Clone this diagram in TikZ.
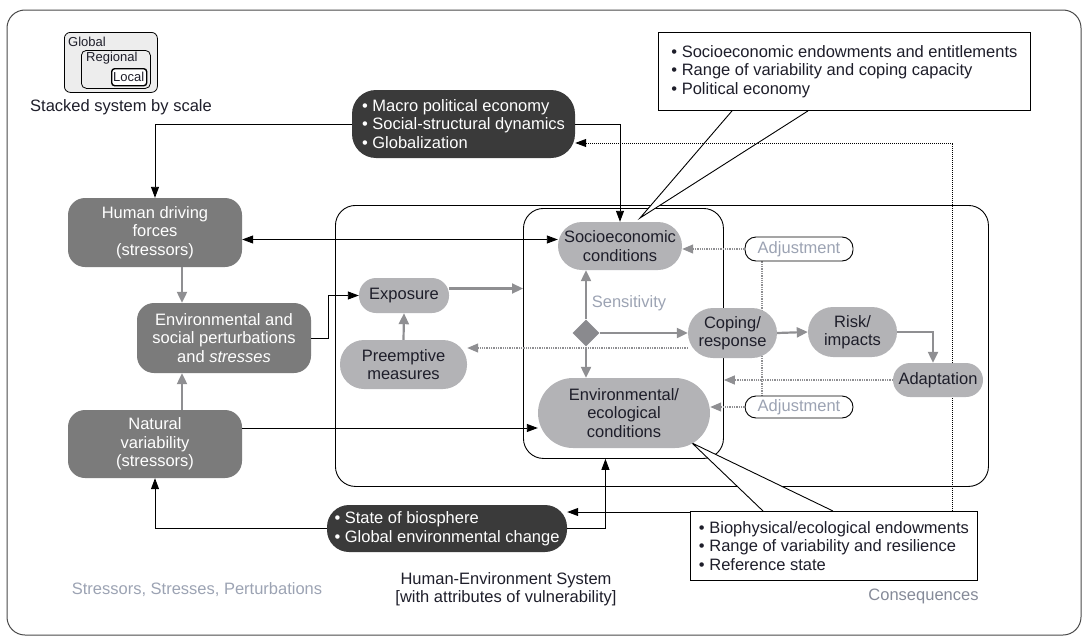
\documentclass[tikz,border=0pt]{standalone}
\usepackage{fontspec}
\setmainfont{Liberation Sans}
\usepackage{tikz}
\usetikzlibrary{shapes,arrows.meta,backgrounds,positioning,calc}

\definecolor{nodedark}{HTML}{7B7B7B}
\definecolor{nodeblack}{HTML}{3A3A3A}
\definecolor{nodelight}{HTML}{B3B3B6}
\definecolor{arrowgray}{HTML}{8F8F92}
\definecolor{diagray}{HTML}{8A8A8E}
\definecolor{textdark}{HTML}{1E1E2A}
\definecolor{textpale}{HTML}{9CA3B3}
\definecolor{framegray}{HTML}{4A4A4A}
\definecolor{legendfill}{HTML}{EDEDED}

\newcommand{\itm}{\textbullet\ }

\begin{document}
\begin{tikzpicture}[x=1pt,y=-1pt,
    >={Triangle[length=11pt,width=8pt]},
    every node/.style={font=\fontsize{16.5}{18.5}\selectfont,text=textdark,inner sep=0pt},
    darkbox/.style={fill=nodedark,text=white,rounded corners=17pt,align=center,minimum width=174pt},
    blackbox/.style={fill=nodeblack,text=white,align=left},
    lightbox/.style={fill=nodelight,align=center},
    adjbox/.style={draw,line width=0.9pt,fill=white,rounded corners=11pt,text=textpale,minimum width=108pt},
    callout/.style={draw,line width=0.9pt,fill=white,align=left,anchor=north west},
    legbox/.style={draw,line width=0.8pt,anchor=north west},
    legtext/.style={font=\fontsize{13}{15}\selectfont,anchor=west},
    conn/.style={line width=0.9pt},
    garrow/.style={-{Triangle[length=11pt,width=10pt]},draw=arrowgray,line width=2.2pt},
    gdots/.style={draw=arrowgray,line width=1.3pt,densely dotted},
    gdotarrow/.style={gdots,-{Triangle[length=11pt,width=9pt]},arrowgray},
    kdots/.style={line width=1pt,densely dotted}
  ]
  \useasboundingbox (0,0) rectangle (1084,637);

  % frame and system boxes
  \begin{scope}[on background layer]
    \draw[framegray,line width=1pt,rounded corners=18pt] (7,10) rectangle (1081,635);
    \node[draw,line width=0.9pt,rounded corners=20pt,minimum width=653pt,minimum height=281pt,anchor=north west] (hes) at (335,205) {};
    \node[draw,line width=0.9pt,rounded corners=20pt,minimum width=200pt,minimum height=250pt,anchor=north west] (vul) at (523,208) {};
  \end{scope}

  % legend
  \node[legbox,fill=legendfill,rounded corners=6pt,minimum width=93pt,minimum height=60pt] (glob) at (64,32) {};
  \node[legbox,fill=legendfill,rounded corners=5pt,minimum width=69pt,minimum height=38pt] (regi) at (81,50) {};
  \node[legbox,fill=white,line width=1.4pt,rounded corners=3pt,minimum width=35pt,minimum height=17pt] (loca) at (111,68) {};
  \node[legtext] (globtxt) at (68,42) {Global};
  \node[legtext] (regitxt) at (86,58) {Regional};
  \node[legtext] (locatxt) at (113,76.5) {Local};
  \node (stack) at (121,107) {Stacked system by scale};

  % stressors
  \node[darkbox,minimum height=69pt] (hdf) at (155,232.5) {Human driving\\forces\\(stressors)};
  \node[darkbox,minimum height=70pt] (esp) at (224,338) {Environmental and\\social perturbations\\and \textit{stresses}};
  \node[darkbox,minimum height=68pt] (nv) at (155,444) {Natural\\variability\\(stressors)};

  \node[blackbox,rounded corners=24pt,minimum width=223pt,minimum height=68pt] (macro) at (463.5,124)
    {\itm Macro political economy\\\itm Social-structural dynamics\\\itm Globalization};
  \node[blackbox,rounded corners=22pt,minimum width=240pt,minimum height=47pt] (bio) at (447,528.5)
    {\itm State of biosphere\\\itm Global environmental change};

  % human-environment system
  \node[lightbox,minimum width=124pt,minimum height=48pt,rounded corners=24pt] (soc) at (620,246) {Socioeconomic\\conditions};
  \node[lightbox,minimum width=90pt,minimum height=35pt,rounded corners=17pt] (expo) at (404,295.5) {Exposure};
  \node[lightbox,minimum width=127pt,minimum height=49pt,rounded corners=24pt] (pre) at (403.5,364.5) {Preemptive\\measures};
  \node[lightbox,minimum width=172pt,minimum height=70pt,rounded corners=35pt] (env) at (624,413) {Environmental/\\ecological\\conditions};
  \node[diamond,fill=diagray,minimum width=27pt,minimum height=27pt] (dia) at (586,333) {};
  \node[text=textpale] (sens) at (629,303) {Sensitivity};
  \node[lightbox,minimum width=89pt,minimum height=50pt,rounded corners=25pt] (cop) at (732.5,333) {Coping/\\response};
  \node[lightbox,minimum width=89pt,minimum height=50pt,rounded corners=25pt] (risk) at (852.5,332) {Risk/\\impacts};
  \node[lightbox,minimum width=90pt,minimum height=34pt,rounded corners=17pt] (adap) at (938,380) {Adaptation};
  \node[adjbox,minimum height=24pt] (adj1) at (799,249) {Adjustment};
  \node[adjbox,minimum height=22pt] (adj2) at (799,407) {Adjustment};

  % attribute callouts
  \node[callout,minimum width=372pt,minimum height=78pt] (tcall) at (658,32)
    {\itm Socioeconomic endowments and entitlements\\\itm Range of variability and coping capacity\\\itm Political economy};
  \node[callout,minimum width=287pt,minimum height=69pt] (bcall) at (690,511)
    {\itm Biophysical/ecological endowments\\\itm Range of variability and resilience\\\itm Reference state};
  \coordinate (stip) at (640,218);
  \coordinate (etip) at (692,443);

  % captions
  \node[text=textpale] (stresslbl) at (197,590) {Stressors, Stresses, Perturbations};
  \node[align=center] (heslbl) at (506,589) {Human-Environment System\\{[}with attributes of vulnerability{]}};
  \node[text=textpale!85!black] (conslbl) at (923.5,596) {Consequences};

  \begin{scope}[on background layer]
    \fill[white] ([xshift=74pt]tcall.south west) -- (stip) -- ([xshift=150pt]tcall.south west) -- cycle;
    \draw[conn] ([xshift=74pt]tcall.south west) -- (stip) -- ([xshift=150pt]tcall.south west);
    \fill[white] ([xshift=73pt]bcall.north west) -- (etip) -- ([xshift=143pt]bcall.north west) -- cycle;
    \draw[conn] ([xshift=73pt]bcall.north west) -- (etip) -- ([xshift=143pt]bcall.north west);
    \draw[kdots,->] ([xshift=-25pt]bcall.north east) |- ([yshift=-19pt]macro.east);
    \draw[gdots] ([xshift=-37pt]adj1.south) -- ([xshift=-37pt]adj2.north);
  \end{scope}

  % black connectors
  \draw[conn,->] (macro.west) -| (hdf.north);
  \draw[conn,->] (macro.east) -| (soc.north);
  \draw[conn,<->] ([yshift=-7pt]hdf.east) -- ([yshift=-7pt]hdf.east -| soc.west);
  \draw[conn,->] ([yshift=16pt]nv.east) -- ([yshift=16pt]nv.east -| env.west);
  \draw[conn,->] (esp.east) -- ++(17,0) |- (expo.west);
  \draw[conn,->] (bio.west) -| (nv.south);
  \draw[conn,->] (bio.east) -| ([xshift=-18pt]vul.south);
  \draw[conn,->] ([yshift=-1pt]bcall.north west) -- ([yshift=-1pt]bcall.north west -| bio.east);

  % gray connectors
  \draw[garrow] ([xshift=27pt]hdf.south) -- ([xshift=27pt]hdf.south |- esp.north);
  \draw[garrow] ([xshift=27pt]nv.north) -- ([xshift=27pt]nv.north |- esp.south);
  \draw[garrow] ([yshift=7pt]expo.east) -- ([yshift=7pt]expo.east -| vul.west);
  \draw[garrow] (pre.north) -- (expo.south);
  \draw[garrow] (dia.north) -- (dia.north |- soc.south);
  \draw[garrow] (dia.south) -- (dia.south |- env.north);
  \draw[garrow] (dia.east) -- (cop.west);
  \draw[garrow] (cop.east) -- (risk.west);
  \draw[garrow] (risk.east) -| ([xshift=-5pt]adap.north);

  % adjustments
  \draw[gdotarrow] ([yshift=-15pt]cop.west) -- ([yshift=-15pt]cop.west -| pre.east);
  \draw[gdotarrow] (adj1.west) -- (adj1.west -| soc.east);
  \draw[gdotarrow] (adj2.west) -- (adj2.west -| env.east);
  \draw[gdotarrow] (adap.west) -- (adap.west -| vul.east);
\end{tikzpicture}
\end{document}
